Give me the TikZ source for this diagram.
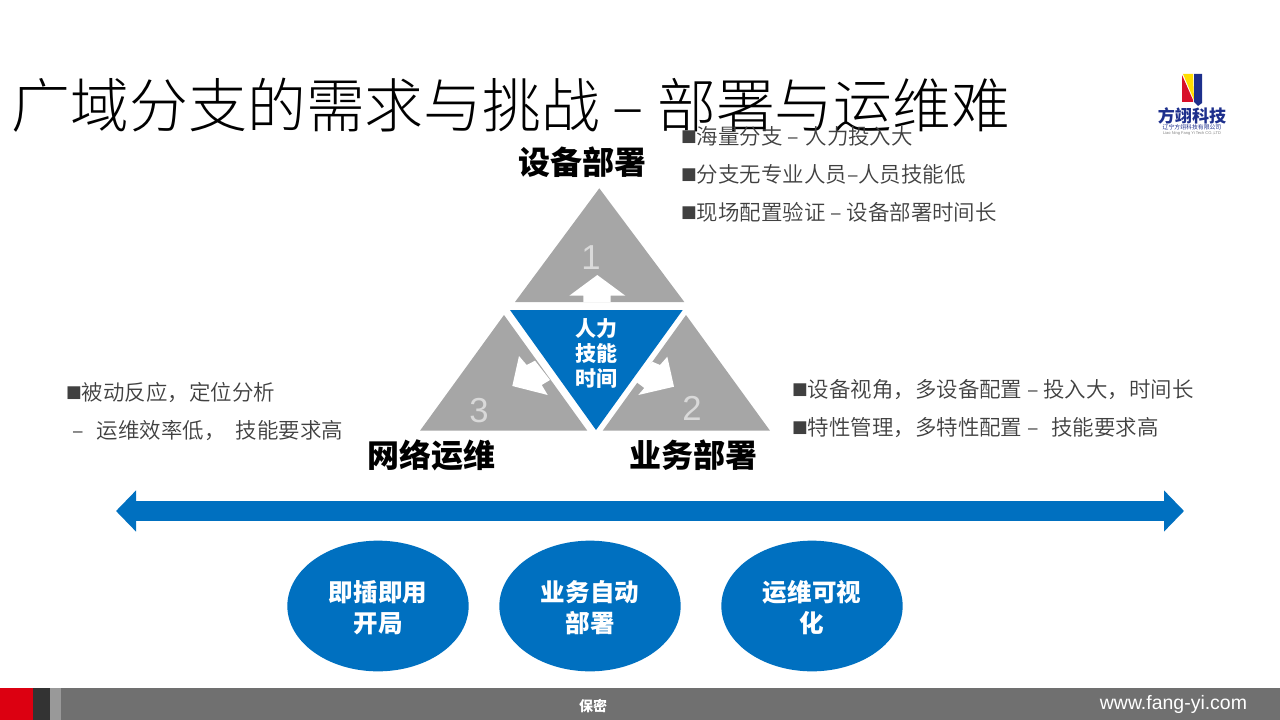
\documentclass[tikz,border=0pt]{standalone}
\usepackage{fontspec}
\setmainfont{Noto Sans CJK SC}
\newfontfamily\titlefont{Noto Sans CJK SC Light}
\newfontfamily\pointfont{Noto Sans CJK SC DemiLight}
\newfontfamily\latinfont{Liberation Sans}
\newfontfamily\markfont{DejaVu Sans}
\newcommand{\pointmark}{\raisebox{2.4pt}{\markfont\fontsize{12.5}{12}\selectfont ■}}
\usetikzlibrary{positioning,calc,arrows.meta,shapes.geometric}
\definecolor{deviceblue}{HTML}{0070C0}
\definecolor{sidegray}{HTML}{A6A6A6}
\definecolor{pointgray}{HTML}{404040}
\definecolor{barred}{HTML}{DC0011}
\definecolor{bardark}{HTML}{333333}
\definecolor{barlight}{HTML}{999999}
\definecolor{bargray}{HTML}{707070}
\definecolor{logoblue}{HTML}{1D2F8C}
\definecolor{logored}{HTML}{D8102A}
\definecolor{logoyellow}{HTML}{FFDD00}
\begin{document}
\begin{tikzpicture}[
      x=0.75pt,y=-0.75pt,
      node distance=11.5pt,
      every node/.style={inner sep=0pt,outer sep=0pt},
      sidetri/.style={fill=sidegray},
      whitearrow/.style={fill=white},
      point/.style={anchor=west,text=pointgray,text height=15.25pt,text depth=1.75pt,
        font=\pointfont\fontsize{16.1}{20}\selectfont},
      corner/.style={text=black,font=\bfseries\fontsize{24}{28}\selectfont},
      number/.style={text=white!85!black,font=\latinfont\fontsize{26}{30}\selectfont},
      pill/.style={ellipse,fill=deviceblue,minimum width=136pt,minimum height=98pt,
        text=white,align=center,font=\bfseries\fontsize{18.4}{23}\selectfont},
      ]
      \useasboundingbox (0,0) rectangle (1280,720);
      \node[anchor=west,font=\titlefont\fontsize{44.1}{50}\selectfont] (title) at (12,105.5)
        {广域分支的需求与挑战 – 部署与运维难};
      \fill[sidetri] (599.3,188.3) -- (684.3,302) -- (515,302) -- cycle;
      \fill[sidetri] (686,315) -- (770,430.7) -- (602.7,430.7) -- cycle;
      \fill[sidetri] (504,315) -- (587.3,430.7) -- (420,430.7) -- cycle;
      \fill[deviceblue] (510,310) -- (682.7,310) -- (596,430) -- cycle;
      \fill[whitearrow] (597.3,275) -- (625.3,295.7) -- (610.7,295.7) -- (610.7,302)
        -- (583.3,302) -- (583.3,295.7) -- (569.3,295.7) -- cycle;
      \fill[whitearrow] (674,386.7) -- (638.3,395) -- (644.3,388) -- (636,381.7)
        -- (652.3,361.7) -- (660,365) -- (667.3,356.7) -- cycle;
      \fill[whitearrow] (512.3,386) -- (519,356) -- (526.7,365) -- (535,360.7)
        -- (550,380) -- (541.7,385) -- (547.7,395) -- cycle;
      \node[number] (numA) at (591,258) {1};
      \node[number] (numB) at (692,408) {2};
      \node[number] (numC) at (479,411) {3};
      \node[text=white,align=center,font=\bfseries\fontsize{15.75}{19}\selectfont] (centre) at (596,353.5)
        {人力\\技能\\时间};
      \node[corner] (cornerA) at (582,162.5) {设备部署};
      \node[corner] (cornerB) at (693,455.5) {业务部署};
      \node[corner] (cornerC) at (431,455.5) {网络运维};
      \node[point] (pointA) at (681,136) {\pointmark 海量分支 –\hspace{5pt}人力投入大};
      \node[point,below=of pointA.south west,anchor=north west] (pointB) {\pointmark 分支无专业人员–人员技能低};
      \node[point,below=of pointB.south west,anchor=north west] (pointC) {\pointmark 现场配置验证 – 设备部署时间长};
      \node[point] (pointD) at (792,388.3) {\pointmark 设备视角，多设备配置 – 投入大，时间长};
      \node[point,below=of pointD.south west,anchor=north west] (pointE) {\pointmark 特性管理，多特性配置 –\hspace{9.5pt}技能要求高};
      \node[point] (pointF) at (66,391.3) {\pointmark 被动反应，定位分析};
      \node[point,below=of pointF.south west,anchor=north west,xshift=4.5pt] (pointG) {–\hspace{10pt}运维效率低，\hspace{7.5pt}技能要求高};
      \coordinate (spanL) at (116,511);
      \coordinate (spanR) at (1184,511);
      \draw[{Triangle[length=15pt,width=30pt]}-{Triangle[length=15pt,width=30pt]},deviceblue,line width=15pt]
        (spanL) -- (spanR);
      \node[pill] (pillA) at (378,606) {\\[-4.5pt]即插即用\\开局};
      \node[pill,right=23pt of pillA] (pillB) {\\[-4.5pt]业务自动\\部署};
      \node[pill,right=30.5pt of pillB] (pillC) {\\[-4.5pt]运维可视\\化};
      \fill[bargray] (0,688) rectangle (1280,720);
      \fill[barred] (0,688) rectangle (33,720);
      \fill[bardark] (33,688) rectangle (50,720);
      \fill[barlight] (50,688) rectangle (61,720);
      \node[text=white,font=\bfseries\fontsize{10.5}{12}\selectfont] (secret) at (593,706) {保密};
      \node[text=white,anchor=east,font=\latinfont\fontsize{14.6}{16}\selectfont] (site) at (1247,704.5) {www.fang-yi.com};
      \fill[logored] (1182,75) -- (1193,100) -- (1193,102) -- (1182,102) -- cycle;
      \fill[logoyellow] (1183,74) -- (1193,74) -- (1194,100) -- cycle;
      \fill[logoblue] (1194,74) -- (1202,74) -- (1202,103) -- (1198,106) -- (1194,102) -- cycle;
      \node[text=logoblue,font=\bfseries\fontsize{12.8}{14}\selectfont] (logoname) at (1192,116) {方翊科技};
      \node[text=logoblue,font=\fontsize{4.4}{5}\selectfont] (logocn) at (1192,127) {辽宁方翊科技有限公司};
      \node[text=gray,font=\latinfont\fontsize{3}{4}\selectfont] (logoen) at (1192,133) {Liao Ning Fang Yi Tech CO.,LTD};
    \end{tikzpicture}
\end{document}
